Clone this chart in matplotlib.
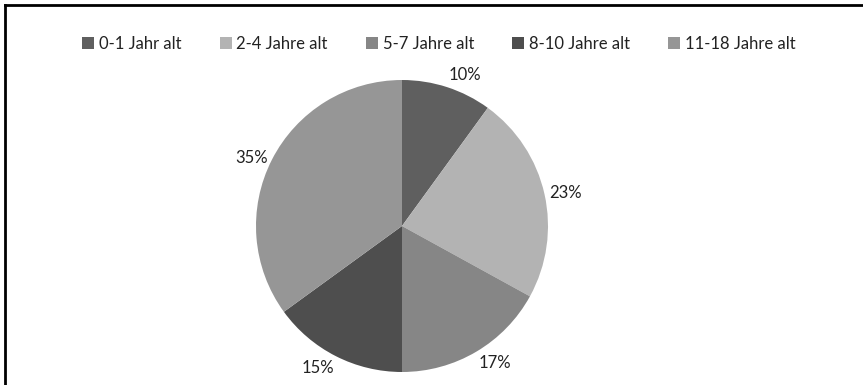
import matplotlib.pyplot as plt
from matplotlib.lines import Line2D
import numpy as np

# age groups and their share
groups = ["0-1 Jahr alt", "2-4 Jahre alt", "5-7 Jahre alt", "8-10 Jahre alt", "11-18 Jahre alt"]
shares = [10, 23, 17, 15, 35]
colors = ["#5f5f5f", "#b3b3b3", "#868686", "#4e4e4e", "#969696"]

plt.rcParams['font.family'] = ['Lato', 'DejaVu Sans']

W, H = 863, 385
fig = plt.figure(figsize=(W / 100, H / 100), dpi=100)

# pie axes: centre (402, 226) px, radius 146 px
cx, cy, r = 402, 226, 146
ax = fig.add_axes([(cx - r) / W, (H - cy - r) / H, 2 * r / W, 2 * r / H])

wedges, texts, autotexts = ax.pie(shares, colors=colors, startangle=90, counterclock=False,
                                  autopct=lambda p: "%d%%" % round(p), pctdistance=1.03,
                                  textprops={'fontsize': 12, 'color': '#222222'},
                                  wedgeprops={'linewidth': 0})

# place percentage labels just outside the rim
for t in autotexts:
    x, y = t.get_position()
    ang = np.degrees(np.arctan2(y, x))
    t.set_ha('left' if x > 0.05 else ('right' if x < -0.05 else 'center'))
    if abs(ang) < 30 or abs(ang) > 150:
        t.set_va('center')
    else:
        t.set_va('bottom' if y > 0 else 'top')

ax.set_xlim(-1, 1)
ax.set_ylim(-1, 1)
ax.set_aspect('equal')

# legend across the top
handles = [Line2D([], [], marker='s', linestyle='none', markersize=8,
                  markerfacecolor=c, markeredgewidth=0) for c in colors]
fig.legend(handles, groups, loc='center', bbox_to_anchor=(439 / W, 1 - 44 / H), ncol=5,
           frameon=False, fontsize=12, handlelength=0.7, handletextpad=0.3,
           columnspacing=2.3, labelcolor='#222222')

# chart frame
fig.add_artist(Line2D([4.5 / W, 4.5 / W], [0, 1 - 4.5 / H], color='black', linewidth=2))
fig.add_artist(Line2D([4.5 / W, 1], [1 - 4.5 / H, 1 - 4.5 / H], color='black', linewidth=2))

fig.savefig("out.png", dpi=100)
